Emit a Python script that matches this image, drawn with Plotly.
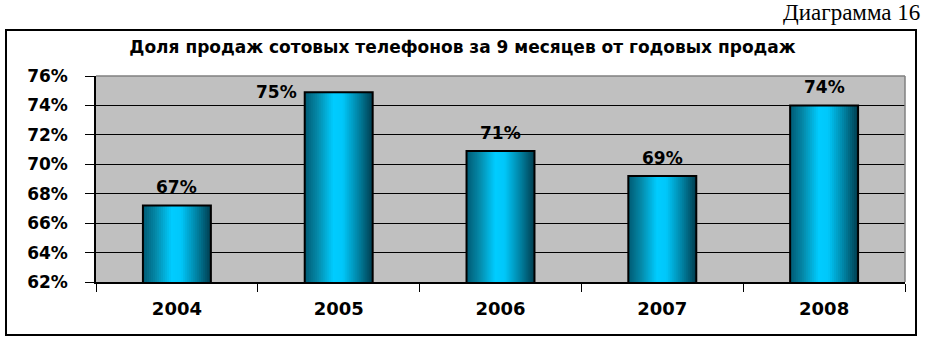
import plotly.graph_objects as go

years = ["2004", "2005", "2006", "2007", "2008"]
shares = [67.2, 74.9, 70.9, 69.2, 74.0]
labels = ["67%", "75%", "71%", "69%", "74%"]
y_ticks = [62, 64, 66, 68, 70, 72, 74, 76]
y_tick_labels = ["62%", "64%", "66%", "68%", "70%", "72%", "74%", "76%"]
title = "Доля продаж сотовых телефонов за 9 месяцев от годовых продаж"
caption = "Диаграмма 16"

Y_MIN, Y_MAX = 62, 76

# gradient stops across bar width (position, rgb)
stops = [(0.0, (0, 90, 115)), (0.2, (5, 140, 172)), (0.42, (0, 204, 255)),
         (0.56, (0, 200, 250)), (0.8, (0, 128, 160)), (1.0, (0, 60, 78))]

def interp(t):
    for (p0, c0), (p1, c1) in zip(stops[:-1], stops[1:]):
        if p0 <= t <= p1:
            f = (t - p0) / (p1 - p0) if p1 > p0 else 0
            return "rgb(%d,%d,%d)" % tuple(round(a + (b - a) * f) for a, b in zip(c0, c1))
    return "rgb(%d,%d,%d)" % stops[-1][1]

BW = 0.42
N = 34
fig = go.Figure()
for i in range(N):
    t = (i + 0.5) / N
    # each slice runs to the bar's right edge; later slices cover earlier ones (no seams)
    fig.add_trace(go.Bar(x=years, y=shares, width=BW * (N - i) / N, offset=-BW / 2 + i * BW / N,
                         marker=dict(color=interp(t), line=dict(width=0)),
                         hoverinfo="skip", showlegend=False))
fig.add_trace(go.Bar(x=years, y=shares, width=BW, offset=-BW / 2,
                     marker=dict(color="rgba(0,0,0,0)", line=dict(color="black", width=2)),
                     showlegend=False))

label_font = dict(family="DejaVu Sans", size=17, color="black", weight="bold")
for idx, (yv, lb) in enumerate(zip(shares, labels)):
    if yv > Y_MAX - 1.5:
        # not enough room above the bar: place label to the left of the bar top
        fig.add_annotation(x=idx, y=yv, text=lb, showarrow=False, xanchor="right",
                           yanchor="middle", xshift=-40, font=label_font)
    else:
        fig.add_annotation(x=idx, y=yv, text=lb, showarrow=False, yanchor="bottom",
                           yshift=6, font=label_font)

fig.update_layout(
    width=925, height=340, barmode="overlay",
    margin=dict(l=96, r=20, t=76, b=58),
    paper_bgcolor="white", plot_bgcolor="#C0C0C0",
    title=dict(text=title, x=0.5, xanchor="center", y=1 - 47 / 340, yanchor="middle",
               font=dict(family="DejaVu Sans", size=17, color="black", weight="bold")),
    font=dict(family="DejaVu Sans", color="black"),
)
fig.update_yaxes(range=[Y_MIN, Y_MAX], tickvals=y_ticks, ticktext=y_tick_labels,
                 showgrid=True, gridcolor="black", gridwidth=1,
                 showline=True, linecolor="black", linewidth=1.5,
                 ticks="outside", ticklen=9, tickcolor="black", ticklabelstandoff=14,
                 tickfont=dict(family="DejaVu Sans", size=17, weight="bold"),
                 zeroline=False, fixedrange=True)
fig.update_xaxes(type="category", categoryorder="array", categoryarray=years,
                 range=[-0.5, len(years) - 0.5],
                 showgrid=False, showline=True, linecolor="black", linewidth=1.5,
                 ticks="outside", ticklen=8, tickcolor="black", tickson="boundaries",
                 ticklabelstandoff=10, tickangle=0, automargin=False,
                 tickfont=dict(family="DejaVu Sans", size=18, weight="bold"),
                 mirror=False)

# plot area top/right border (gray)
fig.add_shape(type="line", xref="paper", yref="paper", x0=0, x1=1, y0=1, y1=1,
              line=dict(color="#808080", width=1.5))
fig.add_shape(type="line", xref="paper", yref="paper", x0=1, x1=1, y0=0, y1=1,
              line=dict(color="#808080", width=1.5))
# outer chart frame
fig.add_shape(type="rect", xref="paper", yref="paper",
              x0=-90 / 809, x1=1 + 11 / 809, y0=-53 / 206, y1=1 + 46 / 206,
              line=dict(color="black", width=2), fillcolor="rgba(0,0,0,0)", layer="below")
fig.add_annotation(xref="paper", yref="paper", x=1 + 17 / 809, y=1 + 63 / 206,
                   xanchor="right", yanchor="middle", text=caption, showarrow=False,
                   font=dict(family="Liberation Serif", size=23, color="black"))

fig.write_html("out.html")
